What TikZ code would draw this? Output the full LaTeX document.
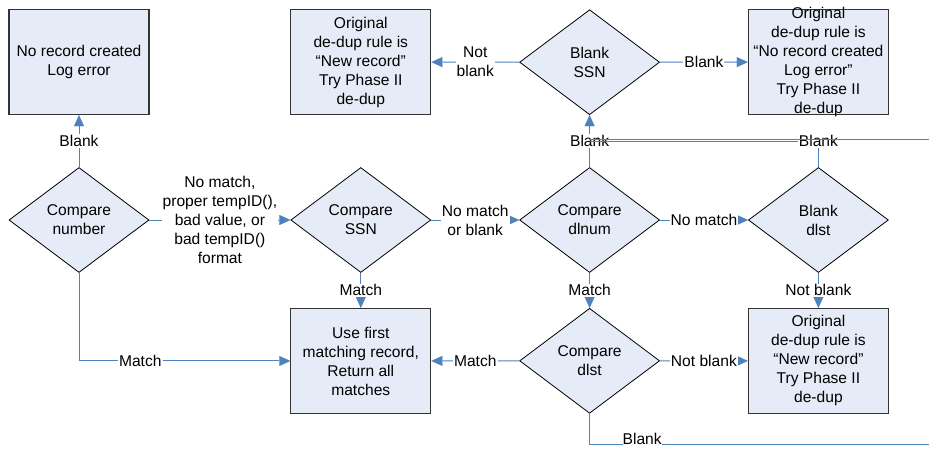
\documentclass[tikz,border=0pt]{standalone}
\usepackage{fontspec}
\setmainfont{Liberation Sans}
\usetikzlibrary{
        arrows.meta,
        calc,
        positioning,
        shapes.geometric
    }
\definecolor{boxfill}{RGB}{230,236,247}
\definecolor{linkblue}{RGB}{79,129,189}
\tikzset{>={Triangle[length=11pt,width=10pt,fill=linkblue]},node distance=52pt}

\begin{document}
\begin{tikzpicture}[x=1pt,y=-1pt,font=\fontsize{15.6pt}{19pt}\selectfont,
        box/.style={draw=black!80,line width=1.1pt,fill=boxfill,minimum width=140pt,minimum height=105pt,inner sep=0pt,align=center},
        decision/.style={diamond,draw=black,line width=0.8pt,fill=boxfill,minimum width=140pt,minimum height=105pt,inner sep=0pt,aspect=1.33,align=center},
        conn/.style={draw=linkblue,line width=1pt,-{Triangle[length=11pt,width=10pt,fill=linkblue,line width=0.1pt]}},
        lbl/.style={fill=white,inner sep=1pt,align=center}]
    \useasboundingbox (0,0) rectangle (929,448);
    \clip (0,0) rectangle (929,448);

    % middle row
    \node[decision] (cnum) at (79,220) {Compare\\number};
    \node[decision] (cssn)  [right=141pt of cnum]  {Compare\\SSN};
    \node[decision] (cdln)  [right=88pt of cssn]   {Compare\\dlnum};
    \node[decision] (bdlst) [right=88pt of cdln]   {Blank\\dlst};
    % top row
    \node[box] (noerr)  [above=of cnum]  {No record created\\Log error};
    \node[box] (newtop) [above=of cssn]  {Original\\de-dup rule is\\“New record”\\Try Phase II\\de-dup};
    \node[decision] (bssn) [above=of cdln] {Blank\\SSN};
    \node[box,label={[align=center]center:Original\\de-dup rule is\\“No record created\\Log error”\\Try Phase II\\de-dup}] (logtop) [above=of bdlst] {};
    % bottom row
    \node[box] (use)    [below=35pt of cssn]  {Use first\\matching record,\\Return all\\matches};
    \node[decision] (cdlst) [below=35pt of cdln] {Compare\\dlst};
    \node[box] (newbot) [below=35pt of bdlst] {Original\\de-dup rule is\\“New record”\\Try Phase II\\de-dup};

    \coordinate (bj) at ($(bssn.south)!0.5!(cdln.north)$);
    \coordinate (loopr) at (960,444);

    \path[conn]
        (cnum)  edge node[lbl] {Blank} (noerr)
        (cnum)  edge node[lbl] {No match,\\proper tempID(),\\bad value, or\\bad tempID()\\format} (cssn)
        (cssn)  edge node[lbl] {Match} (use)
        (cssn)  edge node[lbl] {No match\\or blank} (cdln)
        (cdln)  edge node[lbl] {No match} (bdlst)
        (cdln)  edge node[lbl] {Match} (cdlst)
        (cdln)  edge node[lbl] {Blank} (bssn)
        (cdlst) edge node[lbl] {Match} (use)
        (cdlst) edge node[lbl] {Not blank} (newbot)
        (bdlst) edge node[lbl] {Not blank} (newbot)
        (bssn)  edge node[lbl] {Not\\blank} (newtop)
        (bssn)  edge node[lbl] {Blank} (logtop)
        ;
    \draw[conn] (cnum.south) |- node[lbl,pos=0.645] {Match} (use.west);
    % Blank loops back to the Blank SSN test
    \draw[conn,-] (bdlst.north) |- node[lbl,pos=0.5] {Blank} (bj);
    \draw[conn,-] (cdlst.south) |- node[lbl,pos=0.571,anchor=south,inner sep=0pt,yshift=-1pt] {Blank} (loopr) |- ([yshift=2pt]bj);
\end{tikzpicture}
\end{document}
